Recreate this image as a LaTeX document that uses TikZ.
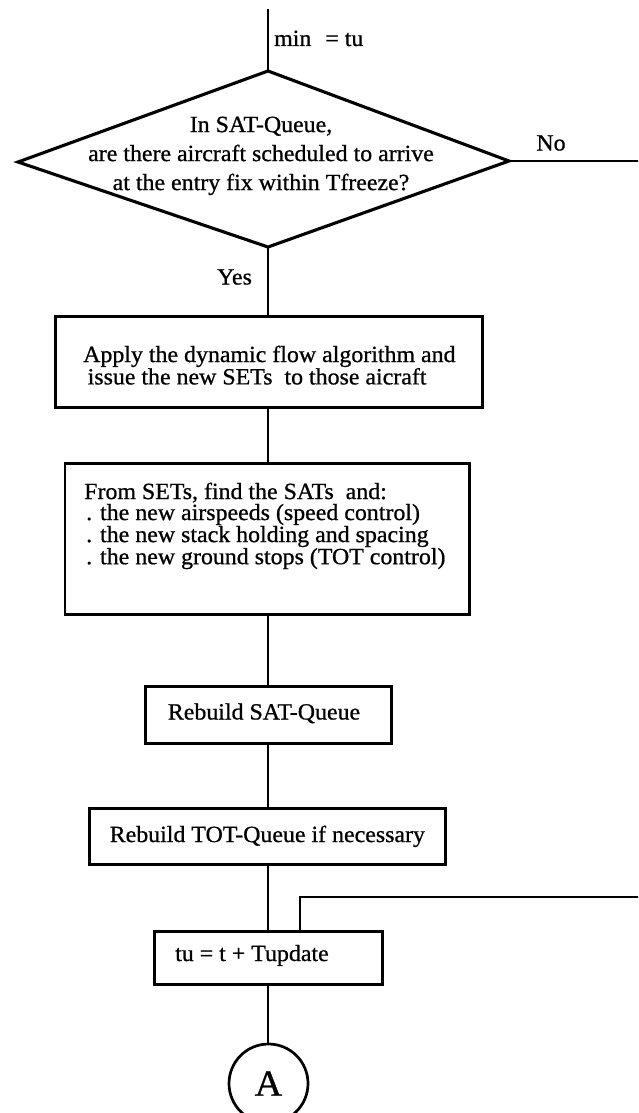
\documentclass[tikz,border=0pt]{standalone}
\usepackage{fontspec}
\setmainfont{Liberation Serif}[FakeStretch=1.03,FakeBold=0.8]
\newcommand{\fcBody}{\fontsize{23.2}{21}\selectfont}
\newcommand{\fcDia}{\fontsize{23.2}{29}\selectfont}
\tikzset{
  conn/.style={line width=2.7pt},
  diam/.style={line width=3.1pt, line join=miter},
  procbox/.style={draw, rectangle, line width=2.7pt, inner sep=0pt, anchor=north west, font=\fcBody},
  txt/.style={inner sep=0pt, font=\fcBody},
}
\begin{document}
\begin{tikzpicture}[x=1pt,y=-1pt]
\useasboundingbox (0,0) rectangle (638,1113);
\clip (0,0) rectangle (638,1113);
\fill[white] (0,0) rectangle (638,1113);

\coordinate (topend) at (268,9);
\coordinate (dT) at (268,71);
\coordinate (dR) at (509,161);
\coordinate (dB) at (268,247);
\coordinate (dL) at (18,162);
\coordinate (noend) at (642,161);
\coordinate (retend) at (642,897);

\draw[conn] (topend) -- (dT);
\node[txt, anchor=base west] (minlbl) at (274,46) {min\hspace{14pt}= tu};
\draw[diam] (dT) -- (dR) -- (dB) -- (dL) -- cycle;
\node[txt, font=\fcDia, align=center, anchor=north] (q) at (261,116.5)
  {In SAT-Queue,\\are there aircraft scheduled to arrive\\at the entry fix within Tfreeze?};
\draw[conn] (dR) -- (noend);
\node[txt, anchor=base] (no) at (551,150.5) {No};
\node[txt, anchor=base] (yes) at (234.5,284.5) {Yes};

\node[procbox, minimum width=427pt, minimum height=91pt] (b1) at (54,315) {};
\node[txt, align=left, anchor=north west] (b1t) at (83,345.5)
  {Apply the dynamic flow algorithm and\\\hspace*{4.5pt}issue the new SETs\ \ to those aicraft};

\node[procbox, minimum width=404.5pt, minimum height=151pt] (b2) at (63.5,462) {};
\node[txt, align=left, anchor=north west] (b2t) at (84,482.5)
  {From SETs, find the SATs\ \ and:\\\hspace*{2pt}. the new airspeeds (speed control)\\\hspace*{2pt}. the new stack holding and spacing\\\hspace*{2pt}. the new ground stops (TOT control)};

\node[procbox, minimum width=246pt, minimum height=57pt] (sat) at (144,685) {};
\node[txt, anchor=base] (satt) at (264,719.5) {Rebuild SAT-Queue};
\node[procbox, minimum width=356pt, minimum height=56pt] (tot) at (88,807) {Rebuild TOT-Queue if necessary};
\node[procbox, minimum width=228pt, minimum height=53pt] (tu) at (153,930) {};
\node[txt, anchor=base west] (tut) at (175,961) {tu = t + Tupdate};
\node[draw, circle, line width=2.7pt, minimum size=79pt, inner sep=0pt, font=\fontsize{37}{37}\selectfont] (A) at (268.5,1083.5) {A};

\draw[conn] (dB) -- (b1.north -| dB);
\draw[conn] (b1.south -| dB) -- (b2.north -| dB);
\draw[conn] (b2.south -| dB) -- (sat.north -| dB);
\draw[conn] (sat.south -| dB) -- (tot.north -| dB);
\draw[conn] (tot.south -| dB) -- (tu.north -| dB);
\draw[conn] (tu.south -| dB) -- (A.north -| dB);
\draw[conn] (retend) -| ([xshift=31.5pt]tu.north);
\end{tikzpicture}
\end{document}
